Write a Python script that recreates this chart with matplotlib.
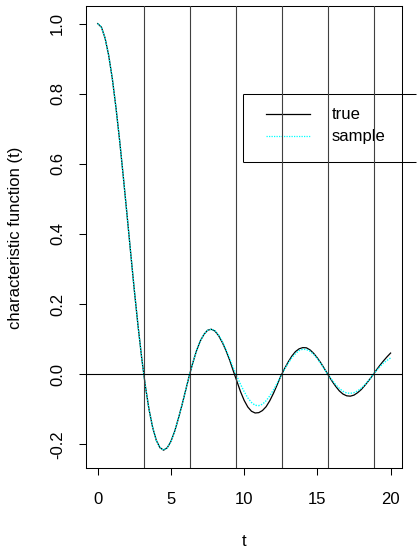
import matplotlib
matplotlib.use("Agg")
import matplotlib.pyplot as plt
import numpy as np
from matplotlib.patches import Rectangle
from matplotlib.lines import Line2D

plt.rcParams["font.family"] = ["Liberation Sans", "DejaVu Sans"]
plt.rcParams["font.size"] = 12

# grid of t values (step 0.25 from 0 to 20)
t = np.linspace(0, 20, 81)

true_cf = [
    1.000, 0.990, 0.959, 0.909, 0.842, 0.759, 0.665, 0.562, 0.455, 0.346,
    0.239, 0.139, 0.047, -0.033, -0.100, -0.152, -0.189, -0.210, -0.217, -0.210,
    -0.192, -0.164, -0.128, -0.089, -0.047, -0.005, 0.033, 0.067, 0.094, 0.113,
    0.125, 0.128, 0.123, 0.110, 0.091, 0.068, 0.041, 0.010, -0.020, -0.050,
    -0.075, -0.094, -0.106, -0.111, -0.110, -0.104, -0.093, -0.076, -0.055, -0.031,
    -0.006, 0.015, 0.034, 0.051, 0.064, 0.072, 0.0755, 0.075, 0.069, 0.059,
    0.046, 0.031, 0.014, -0.003, -0.020, -0.035, -0.048, -0.057, -0.062, -0.063,
    -0.060, -0.053, -0.044, -0.032, -0.019, -0.005, 0.010, 0.024, 0.037, 0.049,
    0.060,
]

sample_cf = [
    1.000, 0.990, 0.959, 0.909, 0.842, 0.759, 0.665, 0.562, 0.455, 0.346,
    0.240, 0.139, 0.047, -0.033, -0.100, -0.152, -0.189, -0.210, -0.217, -0.210,
    -0.192, -0.164, -0.128, -0.089, -0.047, -0.005, 0.033, 0.067, 0.094, 0.113,
    0.125, 0.128, 0.124, 0.112, 0.094, 0.071, 0.046, 0.019, -0.006, -0.029,
    -0.050, -0.068, -0.081, -0.089, -0.090, -0.086, -0.076, -0.062, -0.045, -0.026,
    -0.006, 0.013, 0.031, 0.046, 0.058, 0.067, 0.071, 0.070, 0.065, 0.056,
    0.044, 0.029, 0.013, -0.003, -0.017, -0.030, -0.041, -0.049, -0.054, -0.055,
    -0.053, -0.048, -0.040, -0.030, -0.018, -0.005, 0.008, 0.020, 0.031, 0.039,
    0.046,
]

# reference lines at multiples of pi
vlines = [np.pi * k for k in range(1, 7)]

xticks = [0, 5, 10, 15, 20]
yticks = [-0.2, 0.0, 0.2, 0.4, 0.6, 0.8, 1.0]
legend_labels = ["true", "sample"]

fig = plt.figure(figsize=(4.1701, 5.5401), dpi=100)
ax = fig.add_axes([86 / 417, 1 - 468.3 / 554, 316.3 / 417, 461.8 / 554])

ax.plot(t, true_cf, color="black", lw=0.9, zorder=3)
ax.plot(t, sample_cf, color="cyan", lw=1.0, linestyle=(0, (1, 1)), zorder=4)

ax.set_xlim(-0.8, 20.8)
ax.set_ylim(-0.2688, 1.0488)


def ax_x(px):
    return (px - 86) / 316.3


def ax_y(py):
    return (468.3 - py) / 461.8


# legend box: top, bottom and left edges, open at the figure edge
lx0, lx1 = ax_x(243.3), ax_x(416.4)
ly0, ly1 = ax_y(161.7), ax_y(94.3)
ax.add_patch(Rectangle((lx0, ly0), lx1 - lx0, ly1 - ly0, transform=ax.transAxes,
                       facecolor="white", edgecolor="none", clip_on=False, zorder=1))
for xs, ys in [([lx0, lx1], [ly0, ly0]), ([lx0, lx1], [ly1, ly1]), ([lx0, lx0], [ly0, ly1])]:
    ax.add_line(Line2D(xs, ys, transform=ax.transAxes, color="black", lw=0.75,
                       solid_capstyle="butt", clip_on=False, zorder=2))

for i, (lab, col, ls) in enumerate(zip(legend_labels, ["black", "cyan"],
                                       ["-", (0, (1, 1))])):
    yy = ax_y(114.3 + 22 * i)
    ax.add_line(Line2D([ax_x(265.7), ax_x(310)], [yy, yy],
                       transform=ax.transAxes, color=col, lw=0.9, linestyle=ls,
                       clip_on=False, zorder=2))
    ax.text(ax_x(331.7), yy, lab, transform=ax.transAxes,
            ha="left", va="center", fontsize=12, zorder=2)

for v in vlines:
    ax.axvline(v, color="0.25", lw=0.8, zorder=5)
ax.axhline(0, color="black", lw=0.8, zorder=5)

ax.set_xticks(xticks)
ax.set_xticklabels([str(x) for x in xticks])
ax.set_yticks(yticks)
ax.set_yticklabels([f"{y:.1f}" for y in yticks], rotation=90, va="center")
ax.tick_params(axis="both", direction="out", length=5, width=0.75, labelsize=12)
ax.tick_params(axis="x", pad=12)
ax.tick_params(axis="y", pad=10)

for s in ax.spines.values():
    s.set_linewidth(0.75)

ax.set_xlabel("t", fontsize=12)
ax.set_ylabel("characteristic function (t)", fontsize=12)
ax.xaxis.set_label_coords(0.5, ax_y(541))
ax.yaxis.set_label_coords(ax_x(15), 0.5)
ax.xaxis.label.set_va("center")
ax.yaxis.label.set_va("center")

fig.savefig("out.png", dpi=100)
